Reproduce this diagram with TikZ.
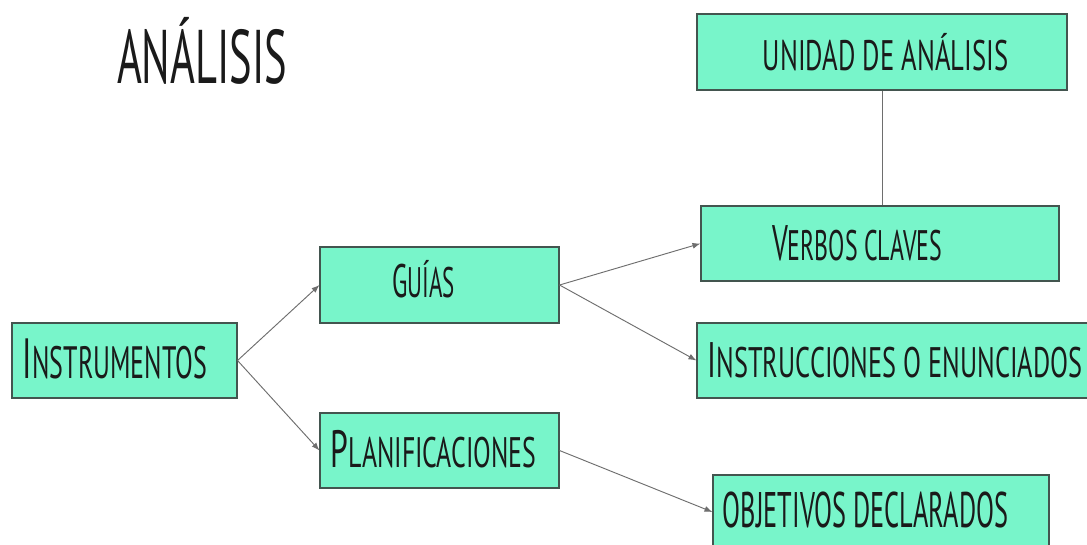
\documentclass[tikz,border=0pt]{standalone}
\usepackage{fontspec}
\usepackage{graphicx}
\setmainfont{PT Sans}
\usetikzlibrary{arrows.meta}
\definecolor{mint}{HTML}{78F5CA}
\definecolor{edgec}{HTML}{43554F}
\definecolor{arrc}{HTML}{6E6E6E}
\definecolor{ink}{HTML}{1A1A1A}
\newcommand\cp[2][1.2]{\scalebox{#1}{#2}}
\newcommand\fitw[2]{\resizebox{#1}{\height}{#2}}
\begin{document}
\begin{tikzpicture}[x=0.75pt,y=-0.75pt,
  box/.style={draw=edgec,fill=mint,line width=0.8pt,inner sep=0pt,rectangle},
  txt/.style={anchor=base,inner sep=0pt,text=ink},
  conn/.style={draw=arrc,line width=0.7pt,-{Latex[length=6pt,width=4.5pt]}},
  plain/.style={draw=arrc,line width=0.7pt}]
\useasboundingbox (0,0) rectangle (1087,544);
\clip (0,0) rectangle (1087,544);
\fill[white] (0,0) rectangle (1087,544);

% boxes
\node[box,minimum width=277.5pt,minimum height=57pt] (unidad) at (882,52) {};
\node[box,minimum width=268.5pt,minimum height=56.25pt] (verbos) at (880,243.5) {};
\node[box,minimum width=296.25pt,minimum height=56.25pt] (instruc) at (894.5,360.5) {};
\node[box,minimum width=168.75pt,minimum height=56.25pt] (instrum) at (124.5,360.5) {};
\node[box,minimum width=179.25pt,minimum height=57pt] (guias) at (439.5,285) {};
\node[box,minimum width=179.25pt,minimum height=56.25pt] (planif) at (439.5,450.5) {};
\node[box,minimum width=252pt,minimum height=55.5pt] (objet) at (881,512) {};

% texts
\node[txt] (title) at (202,83) {\fontsize{57}{57}\selectfont\fitw{127.5pt}{ANÁLISIS}};
\node[txt] (tunidad) at (885.5,70) {\fontsize{32}{32}\selectfont\fitw{184pt}{UNIDAD DE ANÁLISIS}};
\node[txt] (tverbos) at (857,260) {\fontsize{32}{32}\selectfont\fitw{127.5pt}{\cp[1.17]{V}ERBOS CLAVES}};
\node[txt] (tinstruc) at (895,377) {\fontsize{32}{32}\selectfont\fitw{281pt}{\cp[1.17]{I}NSTRUCCIONES O ENUNCIADOS}};
\node[txt] (tinstrum) at (115,378) {\fontsize{34}{34}\selectfont\fitw{138pt}{\cp[1.25]{I}NSTRUMENTOS}};
\node[txt] (tguias) at (423.5,297) {\fontsize{32}{32}\selectfont\fitw{47pt}{\cp[1.1]{G}UÍAS}};
\node[txt] (tplanif) at (433.5,467) {\fontsize{32}{32}\selectfont\fitw{154pt}{\cp[1.23]{P}LANIFICACIONES}};
\node[txt] (tobjet) at (865.5,527) {\fontsize{37.5}{37.5}\selectfont\fitw{214pt}{OBJETIVOS DECLARADOS}};

% connectors
\draw[conn] (instrum.east) -- (guias.west);
\draw[conn] (instrum.east) -- (planif.west);
\draw[conn] (guias.east) -- (verbos.west);
\draw[conn] (guias.east) -- (instruc.west);
\draw[conn] (planif.east) -- (objet.west);
\draw[plain] (unidad.south) -- (unidad.south |- verbos.north);
\end{tikzpicture}
\end{document}
